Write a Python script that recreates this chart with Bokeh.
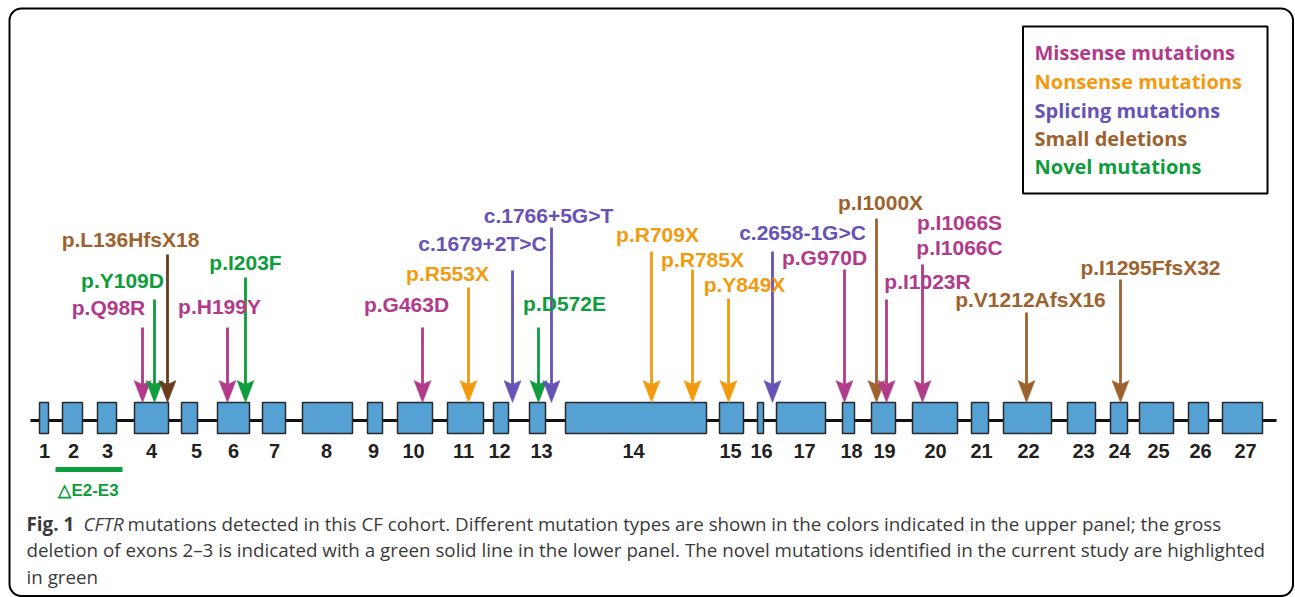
from bokeh.plotting import figure
from bokeh.models import Range1d, BoxAnnotation
from bokeh.core.properties import value
from bokeh.embed import file_html
from bokeh.resources import INLINE

# ---------------- data ----------------
exon_num = [str(i) for i in range(1, 28)]
exon_start = [39, 62, 97, 134, 181, 217, 262, 302, 367, 397, 447, 493, 529, 565,
              719, 757, 776, 842, 871, 912, 971, 1003, 1067, 1110, 1139, 1188, 1222]
exon_end = [48, 82, 116, 168, 197, 249, 285, 352, 382, 432, 483, 508, 545, 706,
            743, 763, 825, 854, 895, 957, 988, 1051, 1095, 1127, 1173, 1208, 1262]
exon_label_x = [44, 73, 107, 151, 196, 233, 274, 326, 373, 413, 463, 499, 541, 633,
                730, 761, 804, 851, 884, 935, 981, 1028, 1083, 1119, 1158, 1200, 1245]

COL = {
    "missense": "#B23A8B",
    "nonsense": "#F39A10",
    "splicing": "#6752B5",
    "deletion": "#9E622E",
    "deletion_dark": "#6A3B1C",
    "novel": "#0E9C3C",
}

arrow_x = [142, 154, 167, 227, 245, 422, 468, 512, 538, 551, 651, 692, 728, 772,
           844, 876, 886, 922, 1026, 1120]
arrow_top = [327, 299, 254, 327, 277, 327, 287, 270, 327, 227, 251, 269, 298, 251,
             269, 218, 299, 264, 312, 279]
arrow_type = ["missense", "novel", "deletion_dark", "missense", "novel", "missense",
              "nonsense", "splicing", "novel", "splicing", "nonsense", "nonsense",
              "nonsense", "splicing", "missense", "deletion", "missense", "missense",
              "deletion", "deletion"]

label_text = ["p.Q98R", "p.Y109D", "p.L136HfsX18", "p.H199Y", "p.I203F", "p.G463D",
              "p.R553X", "c.1679+2T>C", "p.D572E", "c.1766+5G>T", "p.R709X", "p.R785X",
              "p.Y849X", "c.2658-1G>C", "p.G970D", "p.I1000X", "p.I1023R", "p.I1066S",
              "p.I1066C", "p.V1212AfsX16", "p.I1295FfsX32"]
label_x = [108, 122, 130, 219, 245, 406, 447, 482, 564, 548, 657, 702, 744, 802, 824,
           880, 927, 959, 959, 1030, 1150]
label_y = [307, 280, 239, 306, 262, 304, 273, 243, 303, 215, 234, 259, 284, 232, 257,
           202, 281, 222, 247, 299, 267]
label_type = ["missense", "novel", "deletion", "missense", "novel", "missense",
              "nonsense", "splicing", "novel", "splicing", "nonsense", "nonsense",
              "nonsense", "splicing", "missense", "deletion", "missense", "missense",
              "missense", "deletion", "deletion"]

legend_text = ["Missense mutations", "Nonsense mutations", "Splicing mutations",
               "Small deletions", "Novel mutations"]
legend_type = ["missense", "nonsense", "splicing", "deletion", "novel"]

gross_deletion = ("\u25b3E2-E3", 2, 3)

caption_lines = [
    "mutations detected in this CF cohort. Different mutation types are shown in the colors indicated in the upper panel; the gross",
    "deletion of exons 2\u20133 is indicated with a green solid line in the lower panel. The novel mutations identified in the current study are highlighted",
    "in green",
]

# ---------------- layout ----------------
W, H = 1295, 597
p = figure(width=W, height=H, output_backend="svg", toolbar_location=None,
           x_range=Range1d(0, W), y_range=Range1d(H, 0),
           min_border=0, x_axis_location=None, y_axis_location=None)
p.grid.visible = False
p.outline_line_color = None
p.background_fill_color = "white"
p.border_fill_color = "white"

FONT = value("Liberation Sans")

# outer frame
p.add_layout(BoxAnnotation(left=9, right=1292.5, top=8, bottom=595.5,
                           fill_color=None, line_color="black", line_alpha=1,
                           line_width=2, border_radius=12))

# backbone
BACK_Y = 420
p.segment(x0=[30], y0=[BACK_Y], x1=[1276], y1=[BACK_Y], line_color="#111111", line_width=3)

# exons
EX_TOP, EX_BOT = 402, 433
p.quad(left=exon_start, right=exon_end, top=[EX_TOP] * 27, bottom=[EX_BOT] * 27,
       fill_color="#55A1D4", line_color="#2b2b2b", line_width=1.5)
p.text(x=exon_label_x, y=[450] * 27, text=exon_num, text_font=FONT,
       text_font_style="bold", text_font_size="20px", text_color="#231f20",
       text_align="center", text_baseline="middle")

# arrows
HEAD_H, HEAD_W, NOTCH = 22, 17, 4
tip = EX_TOP
acol = [COL[t] for t in arrow_type]
p.segment(x0=arrow_x, y0=arrow_top, x1=arrow_x, y1=[tip - HEAD_H + NOTCH] * len(arrow_x),
          line_color=acol, line_width=2.8)
xs = [[x - HEAD_W / 2, x, x + HEAD_W / 2, x] for x in arrow_x]
ys = [[tip - HEAD_H, tip - HEAD_H + NOTCH, tip - HEAD_H, tip] for _ in arrow_x]
p.patches(xs=xs, ys=ys, fill_color=acol, line_color=acol, line_width=0.5)

# mutation labels
p.text(x=label_x, y=label_y, text=label_text, text_font=FONT, text_font_style="bold",
       text_font_size="21px", text_color=[COL[t] for t in label_type],
       text_align="center", text_baseline="middle")

# legend box
p.add_layout(BoxAnnotation(left=1022.5, right=1267, top=26, bottom=193,
                           fill_color=None, line_color="black", line_alpha=1,
                           line_width=2))
p.text(x=[1034] * 5, y=[52, 80.5, 109.5, 137.5, 165.5], text=legend_text,
       text_font=value("Open Sans"), text_font_style="bold", text_font_size="20px",
       text_color=[COL[t] for t in legend_type], text_align="left", text_baseline="middle")

# gross deletion E2-E3
e_a, e_b = gross_deletion[1] - 1, gross_deletion[2] - 1
p.segment(x0=[exon_start[e_a] - 7], y0=[469], x1=[exon_end[e_b] + 6], y1=[469],
          line_color=COL["novel"], line_width=5)
p.text(x=[(exon_start[e_a] + exon_end[e_b]) / 2 - 1], y=[489.5], text=[gross_deletion[0]],
       text_font=FONT, text_font_style="bold", text_font_size="17px",
       text_color=COL["novel"], text_align="center", text_baseline="middle")

# caption
CAP_FONT = value("Open Sans")
CAP_COL = "#3a3a3a"
CAP_SIZE = "18.8px"
cap_y = [523, 549.5, 576]
p.text(x=[26], y=[cap_y[0]], text=["Fig. 1"], text_font=CAP_FONT, text_font_style="bold",
       text_font_size=CAP_SIZE, text_color=CAP_COL, text_baseline="middle")
p.text(x=[83], y=[cap_y[0]], text=["CFTR"], text_font=CAP_FONT, text_font_style="italic",
       text_font_size=CAP_SIZE, text_color=CAP_COL, text_baseline="middle")
p.text(x=[127, 26, 26], y=cap_y, text=caption_lines, text_font=CAP_FONT,
       text_font_size=CAP_SIZE, text_color=CAP_COL, text_baseline="middle")

open("out.html", "w").write(file_html(p, INLINE))
